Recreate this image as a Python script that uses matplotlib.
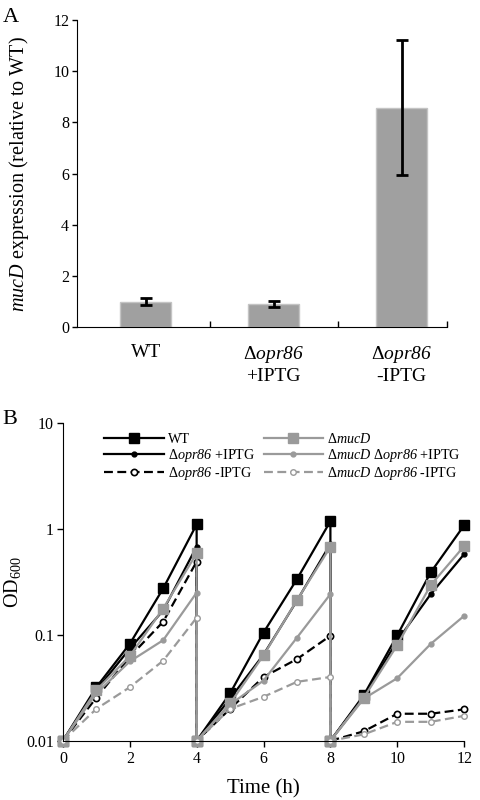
import matplotlib
matplotlib.use("Agg")
import matplotlib.pyplot as plt
from matplotlib.ticker import FixedLocator, NullLocator, FixedFormatter

plt.rcParams['font.family'] = ['Liberation Serif', 'DejaVu Serif']
plt.rcParams['mathtext.fontset'] = 'custom'
plt.rcParams['mathtext.rm'] = 'Liberation Serif'
plt.rcParams['mathtext.it'] = 'Liberation Serif:italic'
plt.rcParams['mathtext.sf'] = 'Liberation Serif:italic'

# ---- Panel A data ----
bar_labels = ['WT', 'Δ$\\mathsf{opr86}$\n+IPTG', 'Δ$\\mathsf{opr86}$\n-IPTG']
bar_values = [1.0, 0.91, 8.58]
bar_errors = [0.15, 0.13, 2.64]
a_yticks = [0, 2, 4, 6, 8, 10, 12]

# ---- Panel B data ----
time_h = [0, 1, 2, 3, 4, 4, 5, 6, 7, 8, 8, 9, 10, 11, 12]
wt = [0.01, 0.032, 0.082, 0.274, 1.10, 0.01, 0.028, 0.105, 0.335, 1.18, 0.01, 0.027, 0.099, 0.388, 1.08]
opr_plus = [0.01, 0.030, 0.074, 0.17, 0.68, 0.01, 0.025, 0.065, 0.21, 0.72, 0.01, 0.026, 0.088, 0.242, 0.577]
opr_minus = [0.01, 0.0255, 0.062, 0.133, 0.49, 0.01, 0.020, 0.040, 0.059, 0.098, 0.01, 0.0123, 0.018, 0.018, 0.0198]
mucd = [0.01, 0.030, 0.063, 0.177, 0.586, 0.01, 0.0225, 0.064, 0.212, 0.676, 0.01, 0.0255, 0.080, 0.294, 0.687]
dm_plus = [0.01, 0.028, 0.056, 0.089, 0.25, 0.01, 0.022, 0.037, 0.094, 0.242, 0.01, 0.025, 0.039, 0.082, 0.151]
dm_minus = [0.01, 0.020, 0.032, 0.057, 0.145, 0.01, 0.020, 0.026, 0.036, 0.040, 0.01, 0.0115, 0.0151, 0.0151, 0.0172]
series_labels = ['WT', 'Δ$\\mathsf{opr86}$ +IPTG', 'Δ$\\mathsf{opr86}$ -IPTG',
                 'Δ$\\mathsf{mucD}$', 'Δ$\\mathsf{mucD}$ Δ$\\mathsf{opr86}$ +IPTG',
                 'Δ$\\mathsf{mucD}$ Δ$\\mathsf{opr86}$ -IPTG']
b_xticks = [0, 2, 4, 6, 8, 10, 12]
b_yticks = [0.01, 0.1, 1, 10]
b_yticklabels = ['0.01', '0.1', '1', '10']

GRAY = '#9a9a9a'
fig = plt.figure(figsize=(4.8, 8.0), dpi=100)

# ---------------- Panel A ----------------
axA = fig.add_axes([0.160, 0.591, 0.771, 0.384])
x = list(range(len(bar_values)))
axA.bar(x, bar_values, width=0.40, color='#a0a0a0', edgecolor='#c4c4c4', linewidth=1)
axA.errorbar(x, bar_values, yerr=bar_errors, fmt='none', ecolor='black',
             elinewidth=2, capsize=4.5, capthick=2)
axA.set_xlim(-0.54, 2.354)
axA.set_ylim(0, 12)
axA.set_yticks(a_yticks)
axA.set_yticklabels([str(v) for v in a_yticks])
axA.set_xticks(x)
axA.set_xticklabels(bar_labels, fontsize=14, linespacing=1.25)
axA.xaxis.set_minor_locator(FixedLocator([0.5, 1.5, 2.354]))
axA.tick_params(axis='x', which='major', length=0, pad=12)
axA.tick_params(axis='x', which='minor', direction='in', length=4.5, width=1)
axA.tick_params(axis='y', direction='out', length=3.5, width=1, labelsize=11.5, pad=2)
for s in ['top', 'right']:
    axA.spines[s].set_visible(False)
axA.set_ylabel('$\\mathsf{mucD}$ expression (relative to WT)', fontsize=14.5)
axA.yaxis.set_label_coords(-0.125, 0.5)
fig.text(0.005, 0.99, 'A', fontsize=16, va='top', ha='left')

# ---------------- Panel B ----------------
axB = fig.add_axes([0.131, 0.074, 0.836, 0.3975])
axB.set_yscale('log')
axB.plot(time_h, wt, color='black', lw=1.6, marker='s', ms=7, mfc='black', mec='black',
         label=series_labels[0], clip_on=False)
axB.plot(time_h, opr_plus, color='black', lw=1.6, marker='o', ms=3.5, mfc='black', mec='black',
         label=series_labels[1], clip_on=False)
axB.plot(time_h, opr_minus, color='black', lw=1.6, ls=(0, (4, 2)), marker='o', ms=4.5,
         mfc='white', mec='black', mew=1.2, label=series_labels[2], clip_on=False)
axB.plot(time_h, mucd, color=GRAY, lw=1.6, marker='s', ms=7, mfc=GRAY, mec=GRAY,
         label=series_labels[3], clip_on=False)
axB.plot(time_h, dm_plus, color=GRAY, lw=1.6, marker='o', ms=3.5, mfc=GRAY, mec=GRAY,
         label=series_labels[4], clip_on=False)
axB.plot(time_h, dm_minus, color=GRAY, lw=1.6, ls=(0, (4, 2)), marker='o', ms=4,
         mfc='white', mec=GRAY, mew=1.0, label=series_labels[5], clip_on=False)
axB.set_xlim(0, 12)
axB.set_ylim(0.01, 10)
axB.xaxis.set_major_locator(FixedLocator(b_xticks))
axB.yaxis.set_major_locator(FixedLocator(b_yticks))
axB.yaxis.set_major_formatter(FixedFormatter(b_yticklabels))
axB.yaxis.set_minor_locator(NullLocator())
axB.tick_params(axis='both', direction='out', length=4.5, width=1, labelsize=11.5)
axB.tick_params(axis='y', pad=2)
axB.tick_params(axis='x', pad=3)
for s in ['top', 'right']:
    axB.spines[s].set_visible(False)
axB.set_xlabel('Time (h)', fontsize=15, labelpad=9)
axB.set_ylabel('OD$_{600}$', fontsize=14.5)
axB.yaxis.set_label_coords(-0.10, 0.5)
leg = axB.legend(ncol=2, loc='upper left', bbox_to_anchor=(0.08, 1.0), frameon=False,
                 fontsize=10.2, handlelength=4.2, handletextpad=0.3, columnspacing=0.6,
                 labelspacing=0.06, borderaxespad=0.25, numpoints=1)
fig.text(0.005, 0.488, 'B', fontsize=16, va='top', ha='left')

fig.savefig('out.png', dpi=100)
